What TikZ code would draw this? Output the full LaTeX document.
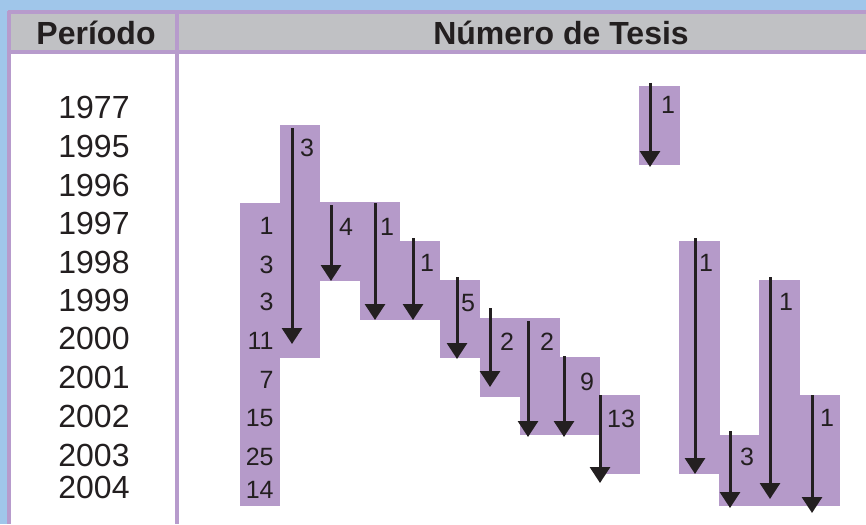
\documentclass[tikz,border=0pt]{standalone}
\usepackage{fontspec}
\setmainfont{Liberation Sans}
\usepackage{xcolor}
\usetikzlibrary{arrows.meta}

\definecolor{fondo}{RGB}{160,198,234}
\definecolor{lila}{RGB}{183,155,204}
\definecolor{barlila}{RGB}{181,154,201}
\definecolor{gris}{RGB}{192,193,196}
\definecolor{tinta}{RGB}{35,31,32}

\begin{document}
\begin{tikzpicture}[x=0.5pt, y=-0.5pt,
    barra/.style={fill=barlila},
    flecha/.style={draw=tinta, line width=1.5pt, -{Triangle[width=10pt,length=8pt]}},
    cifra/.style={inner sep=0pt, text=tinta, font=\fontsize{12.5}{15}\selectfont},
    anio/.style={inner sep=0pt, text=tinta, font=\fontsize{16}{19}\selectfont},
    cabecera/.style={inner sep=0pt, text=tinta, font=\fontsize{16}{19}\selectfont\bfseries},
    linea/.style={draw=lila, line width=2pt}]

    % fondo y tabla
    \fill[fondo] (0,0) rectangle (866,524);
    \useasboundingbox (0,0) rectangle (866,524);
    \fill[white] (8,12) rectangle (866,524);
    \fill[gris] (8,12) rectangle (866,52);
    \draw[linea] (8,12) -- (866,12);
    \draw[linea] (8,52.5) -- (866,52.5);
    \draw[linea] (8.5,11) -- (8.5,524);
    \draw[linea] (177,11) -- (177,524);
    \node[cabecera] (periodo) at (96,33) {Período};
    \node[cabecera] (numero) at (561,33) {Número de Tesis};

    % años
    \foreach \y/\t [count=\i] in {107/1977, 146/1995, 185/1996, 223/1997, 262/1998,
        300/1999, 338/2000, 377/2001, 416/2002, 455/2003, 487/2004}
        \node[anio] (anio\i) at (94,\y) {\t};

    % barras
    \foreach \xa/\ya/\xb/\yb in {240/203/280/506, 280/125/320/358, 320/202/360/281,
        360/202/400/320, 400/241/440/320, 440/280/480/358, 480/318/520/397,
        520/318/560/435, 560/357/600/435, 600/395/640/474, 639/86/680/165,
        679/241/720/474, 719/435/759/506, 759/280/800/506, 800/395/840/506}
        \fill[barra] (\xa,\ya) rectangle (\xb,\yb);

    % columna de totales
    \foreach \y/\t [count=\i] in {226/1, 265/3, 302/3, 341/11, 380/7, 418/15, 457/25, 490/14}
        \node[cifra, anchor=east] (col\i) at (274,\y) {\t};

    % flechas
    \foreach \ax/\at/\ab/\lx/\ly/\n [count=\i] in {292/128/344/307/148/3, 331/205/281/346/227/4,
        375/203/320/387/227/1, 413/238/320/427/263/1, 457/277/359/468/303/5,
        490/308/387/507/342/2, 528/321/437/547/342/2, 564/356/437/587/382/9,
        600/395/483/621/419/13, 650/83/167/668/105/1, 695/238/474/706/263/1,
        730/431/508/747/457/3, 770/277/499/786/302/1, 812/395/513/827/418/1}
    {
        \coordinate (ini\i) at (\ax,\at);
        \coordinate (fin\i) at (\ax,\ab);
        \draw[flecha] (ini\i) -- (fin\i);
        \node[cifra] (num\i) at (\lx,\ly) {\n};
    }
\end{tikzpicture}
\end{document}
